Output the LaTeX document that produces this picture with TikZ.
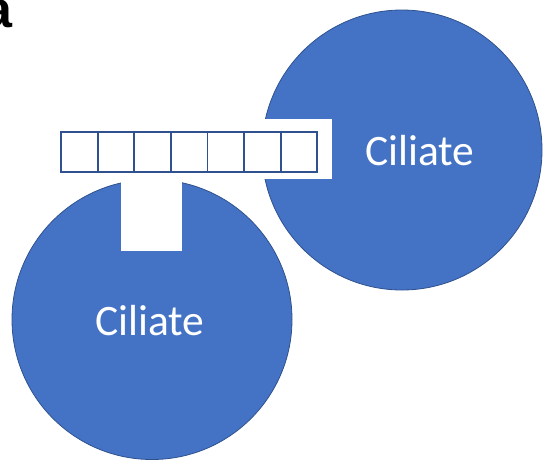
\documentclass[tikz,border=0pt]{standalone}
\usepackage{fontspec}
\setmainfont{Carlito}
\newfontfamily\panelfont{Liberation Sans}
\definecolor{cellfill}{HTML}{4472C4}
\definecolor{cellline}{HTML}{2F528F}
\begin{document}
\begin{tikzpicture}[x=1pt,y=-1pt,
  cell/.style={circle, fill=cellfill, draw=cellline, line width=0.8pt,
    minimum size=280pt, inner sep=0pt},
  gap/.style={fill=white, draw=none},
  unit/.style={rectangle, draw=cellline, fill=white, line width=1.8pt,
    minimum width=36.6pt, minimum height=39.5pt, inner sep=0pt, outer sep=0pt},
  celltext/.style={text=white, font=\fontsize{43.5}{50}\selectfont,
    anchor=base, inner sep=0pt}]
\useasboundingbox (0,0) rectangle (543,461);
% two ciliate cells
\node[cell] (top) at (402,150) {};
\node[cell] (bottom) at (152,319.5) {};
% white cut-outs where the chain attaches
\fill[gap] (250,118.5) rectangle (332,179);
\fill[gap] (121,168) rectangle (181.5,251);
% chain of seven units
\foreach \i in {0,...,6} {
  \node[unit] (u\i) at ({61+18.3+36.6*\i},152) {};
}
% labels
\node[celltext] (ttop) at (420,165) {Ciliate};
\node[celltext] (tbottom) at (150,335) {Ciliate};
\node[anchor=base west, inner sep=0pt, font=\panelfont\bfseries\fontsize{52}{60}\selectfont] (panel) at (-16.5,27) {a};
\end{tikzpicture}
\end{document}
